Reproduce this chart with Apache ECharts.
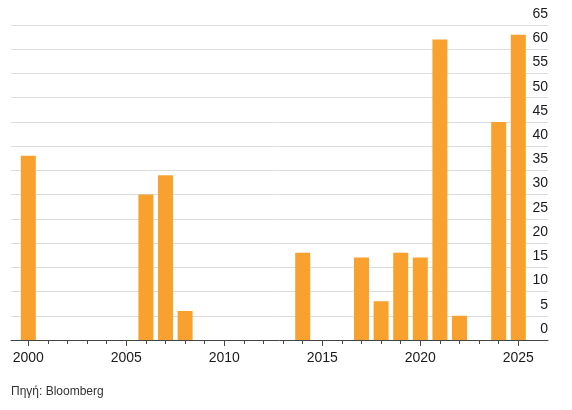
<!DOCTYPE html>
<html>
<head>
<meta charset="utf-8">
<script src="https://cdn.jsdelivr.net/npm/echarts@6/dist/echarts.min.js"></script>
<style>
  html, body { margin: 0; padding: 0; background: #fff; }
</style>
</head>
<body>
<div id="main" style="width:572px;height:410px;"></div>
<script>
// values
var years = [2000, 2006, 2007, 2008, 2014, 2017, 2018, 2019, 2020, 2021, 2022, 2024, 2025];
var values = [38, 30, 34, 6, 18, 17, 8, 18, 17, 62, 5, 45, 63];
var tickYears = [2000, 2001, 2002, 2003, 2004, 2005, 2006, 2007, 2008, 2009, 2010, 2011, 2012,
  2013, 2014, 2015, 2016, 2017, 2018, 2019, 2020, 2021, 2022, 2023, 2024, 2025];
var labelYears = [2000, 2005, 2010, 2015, 2020, 2025];
var source = 'Πηγή: Bloomberg';

var font = 'Liberation Sans';
var chart = echarts.init(document.getElementById('main'));

var barData = years.map(function (y, i) { return [y, values[i]]; });

chart.setOption({
  animation: false,
  title: {
    text: source,
    left: 11,
    top: 386,
    padding: 0,
    textStyle: { fontFamily: font, fontSize: 12, fontWeight: 'normal', color: '#333' }
  },
  grid: { left: 11, right: 24, top: 25, bottom: 70 },
  xAxis: [{
    type: 'value',
    min: 1999.117,
    max: 2026.515,
    splitLine: { show: false },
    axisLine: { show: true, lineStyle: { color: '#444', width: 1 } },
    axisTick: { show: true, customValues: tickYears, length: 4, lineStyle: { color: '#444' } },
    axisLabel: { show: false }
  }, {
    type: 'value',
    position: 'bottom',
    min: 1999.117,
    max: 2026.515,
    splitLine: { show: false },
    axisLine: { show: false },
    axisTick: { show: true, customValues: labelYears, length: 6, lineStyle: { color: '#444' } },
    axisLabel: {
      customValues: labelYears,
      margin: 11,
      fontFamily: font,
      fontSize: 14,
      color: '#1a1a1a',
      formatter: function (v) { return String(v); }
    }
  }],
  yAxis: {
    type: 'value',
    position: 'right',
    min: 0,
    max: 65,
    interval: 5,
    axisLine: { show: false },
    axisTick: { show: false },
    splitLine: { lineStyle: { color: '#dcdcdc', width: 1 } },
    axisLabel: {
      inside: true,
      margin: 0,
      verticalAlign: 'bottom',
      padding: [0, 0, 4, 0],
      fontFamily: font,
      fontSize: 14,
      color: '#1a1a1a'
    }
  },
  series: [{
    type: 'bar',
    xAxisIndex: 0,
    barWidth: 15,
    itemStyle: { color: '#f8a12f' },
    data: barData
  }]
});
</script>
</body>
</html>
